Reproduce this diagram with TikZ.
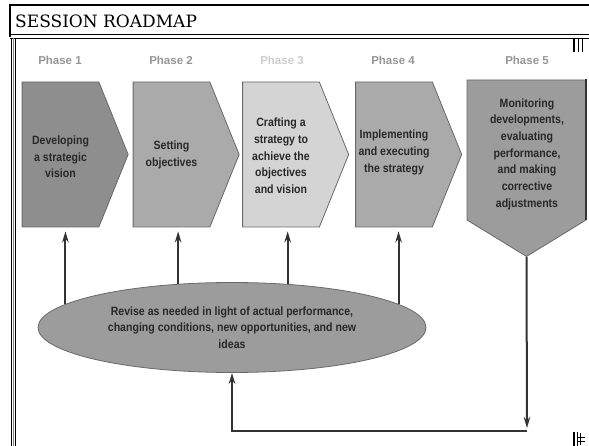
\documentclass[tikz,border=0pt]{standalone}
\usepackage{fontspec}
\newfontfamily\boxfont{Liberation Sans}[FakeStretch=0.88]
\newfontfamily\labelfont{Liberation Sans}
\newfontfamily\titlefont{DejaVu Serif}
\usetikzlibrary{shapes.symbols,shapes.geometric,arrows.meta}

\definecolor{edgegray}{RGB}{105,105,105}
\definecolor{phasegray}{RGB}{150,150,150}
\definecolor{phaselight}{RGB}{205,205,205}
\definecolor{fillA}{RGB}{142,142,142}
\definecolor{fillB}{RGB}{170,170,170}
\definecolor{fillC}{RGB}{212,212,212}
\definecolor{fillE}{RGB}{156,156,156}
\definecolor{inkgray}{RGB}{40,40,40}

\tikzset{
  phaselabel/.style={font=\labelfont\bfseries\fontsize{11.5}{13}\selectfont, text=phasegray, inner sep=0pt},
  chevron/.style={signal, signal to=east, signal pointer angle=136, draw=edgegray, line width=0.8pt,
    minimum width=106pt, minimum height=145pt, inner sep=0pt},
  boxtext/.style={font=\boxfont\bfseries\fontsize{12}{16.7}\selectfont, text=inkgray, align=center, inner sep=0pt},
  feedback/.style={-{Stealth[length=11pt,width=6.5pt]}, line width=2pt, draw=black!80}
}

\begin{document}
\begin{tikzpicture}[x=1pt,y=-1pt]
  \useasboundingbox (0,0) rectangle (589,446);
  % frame and title bar
  \draw[line width=1.5pt] (10,5) -- (589,5);
  \draw[line width=1.2pt] (10,4.5) -- (10,37);
  \draw[line width=1pt] (10,35) -- (589,35);
  \draw[line width=0.8pt] (10,38) -- (589,38);
  \draw[line width=1pt] (11,38) -- (11,446);
  \draw[line width=1pt, gray] (13,38) -- (13,446);
  \draw[line width=1pt] (15.5,38) -- (15.5,446);
  \node[anchor=west, font=\titlefont\fontsize{17}{19}\selectfont, inner sep=0pt] (title) at (15,21) {SESSION ROADMAP};
  % marks at the right edge
  \draw[line width=2.2pt] (574,38) -- (574,52);
  \draw[line width=0.7pt] (578,38) -- (578,52);
  \draw[line width=0.7pt] (582,38) -- (582,52);
  \draw[line width=2.2pt] (574,432) -- (574,446);
  \draw[line width=0.7pt] (577.5,432) -- (577.5,446);
  \draw[line width=0.5pt] (580,433) -- (580,445) (578,437) -- (585,437) (578,441) -- (585,441);

  % phase labels
  \node[phaselabel] (ph1) at (60,60) {Phase 1};
  \node[phaselabel] (ph2) at (171,60) {Phase 2};
  \node[phaselabel, text=phaselight] (ph3) at (282,60) {Phase 3};
  \node[phaselabel] (ph4) at (393,60) {Phase 4};
  \node[phaselabel] (ph5) at (527,60) {Phase 5};

  % the five phases
  \node[chevron, fill=fillA] (dev) at (60.5,154.5) {};
  \node[chevron, fill=fillB] (obj) at (171.5,154.5) {};
  \node[chevron, fill=fillC] (craft) at (281,154.5) {};
  \node[chevron, fill=fillB] (impl) at (394,154.5) {};
  \node[signal, signal to=south, signal pointer angle=117, draw=edgegray, line width=0.8pt, fill=fillE,
    minimum width=119pt, minimum height=140pt, inner sep=0pt] (mon) at (526.5,150) {};
  \draw[line width=1.5pt, black!80] (586,79) -- (586,220);

  \node[boxtext] (devtext) at (60.5,157) {Developing\\a strategic\\vision};
  \node[boxtext] (objtext) at (171.5,155) {Setting\\objectives};
  \node[boxtext] (crafttext) at (281,156) {Crafting a\\strategy to\\achieve the\\objectives\\and vision};
  \node[boxtext] (impltext) at (394,152.5) {Implementing\\and executing\\the strategy};
  \node[boxtext] (montext) at (527,154) {Monitoring\\developments,\\evaluating\\performance,\\and making\\corrective\\adjustments};

  % revision loop
  \node[ellipse, draw=edgegray, line width=0.8pt, fill=fillE, minimum width=388pt, minimum height=90pt,
    inner sep=0pt, boxtext] (rev) at (232,327.5)
    {Revise as needed in light of actual performance,\\changing conditions, new opportunities, and new\\ideas};

  \draw[feedback, shorten >=4pt] (rev.172) -- (rev.172 |- dev.south);
  \draw[feedback, shorten >=4pt] (rev.141) -- (rev.141 |- obj.south);
  \draw[feedback, shorten >=4pt] (rev.38) -- (rev.38 |- craft.south);
  \draw[feedback, shorten >=4pt] (rev.8) -- (rev.8 |- impl.south);
  \coordinate (corner) at (527,431);
  \draw[feedback, shorten >=3pt] (mon.south) -- (corner);
  \draw[feedback] (corner) -| (rev.south);
\end{tikzpicture}
\end{document}
